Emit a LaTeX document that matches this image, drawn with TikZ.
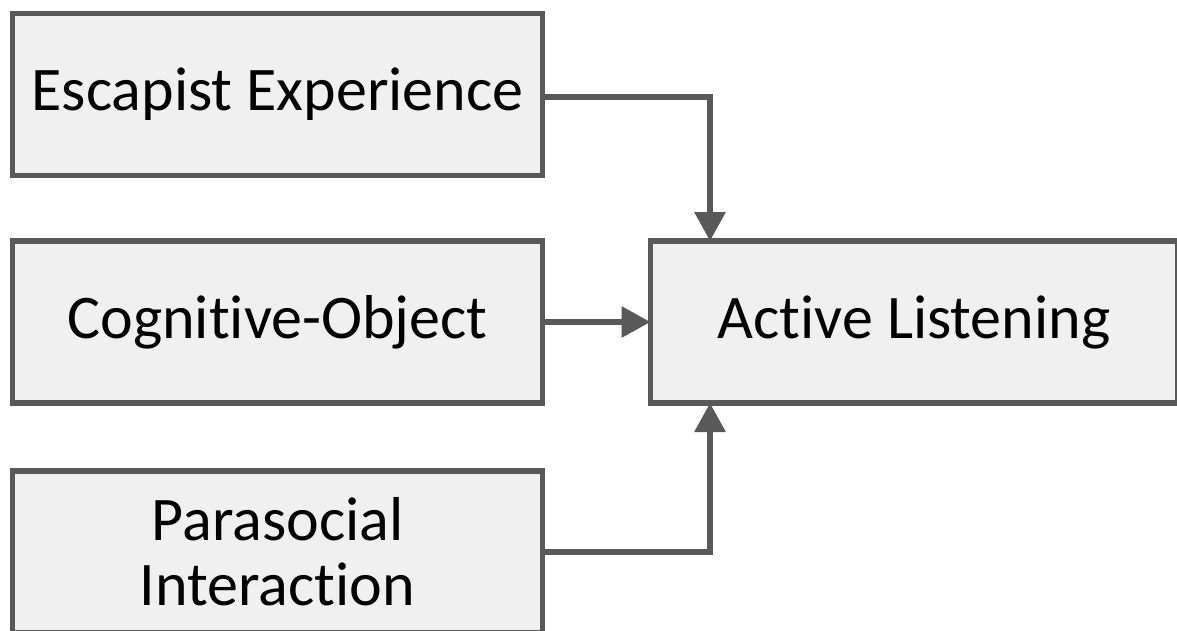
\documentclass[tikz,border=0pt]{standalone}
\usepackage{fontspec}
\setmainfont{Carlito}[Ligatures=NoCommon]
\usepackage{tikz}
\usetikzlibrary{arrows.meta,positioning}
\definecolor{boxgray}{HTML}{595959}
\definecolor{boxfill}{HTML}{F0F0F0}

\begin{document}
\begin{tikzpicture}[
    x=1pt, y=-1pt,
    >={Triangle[width=30pt,length=29pt]},
    factor/.style={draw=boxgray, fill=boxfill, line width=5.8pt, outer sep=0pt,
        minimum width=530pt, minimum height=162pt,
        font=\fontsize{62}{65}\selectfont, align=center, inner sep=0pt},
    outcome/.style={factor, minimum width=527pt},
    linkarr/.style={->, draw=boxgray, line width=6pt},
]
\path[use as bounding box, clip] (0,0) rectangle (1177,630);
\fill[white] (0,0) rectangle (1177,630);

% factors on the left
\node[factor] (escape)    at (277.5, 94.5) {Escapist Experience};
\node[factor] (cognitive) at (277.5, 322)  {Cognitive-Object};
\node[factor] (parasoc)   at (277.5, 552)  {Parasocial\\Interaction};

% outcome
\node[outcome] (listen) at (914, 322) {Active Listening};

% links
\draw[linkarr] ([yshift=-2pt]escape.east) -| ([xshift=59.5pt]listen.north west);
\draw[linkarr] (cognitive.east) -- (listen.west);
\draw[linkarr] (parasoc.east) -| ([xshift=59.5pt]listen.south west);

\end{tikzpicture}
\end{document}
